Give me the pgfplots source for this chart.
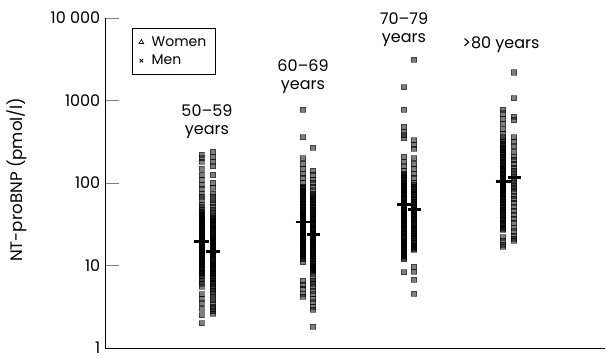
\documentclass[border=0pt]{standalone}
\usepackage{pgfplots}
\pgfplotsset{compat=1.18}
\usepackage{fontspec}
\setmainfont{Poppins}
\begin{document}
\begin{tikzpicture}[x=1pt,y=1pt]
\begin{axis}[
  at={(0,0)}, anchor=south west,
  scale only axis, width=375pt, height=247.5pt,
  axis x line*=bottom, axis y line*=left,
  xmin=0, xmax=10, xtick=\empty,
  ymode=log, ymin=1, ymax=10000,
  ytick={1,10,100,1000,10000},
  yticklabels={1,10,100,1000,10 000},
  yminorticks=false,
  tick align=inside, major tick length=10.5pt,
  /pgf/number format/assume math mode=true,
  tick label style={font=\fontsize{12}{14}\selectfont},
  ylabel={NT-proBNP (pmol/l)},
  every axis y label/.style={at={(axis description cs:-0.176,0.51)}, rotate=90, anchor=center, font=\fontsize{12.5}{14}\selectfont},
  axis line style={black, line width=0.6pt},
  legend style={at={(axis description cs:0.054,0.97)}, anchor=north west, font=\fontsize{10.5}{12}\selectfont, draw=black, line width=0.6pt, row sep=1pt, column sep=4pt, inner xsep=5pt, inner ysep=4pt},
  legend cell align=left,
  pts/.style={only marks, mark=square*, mark size=1.9pt, mark options={draw=none, fill=black, opacity=0.5}, forget plot},
  med/.style={black, line width=2.2pt, forget plot},
  clip=false,
]
\addlegendimage{only marks, mark=triangle, mark size=2pt, mark options={black, line width=0.5pt}}
\addlegendentry{Women\hspace{6pt}}
\addlegendimage{only marks, mark=x, mark size=1.8pt, mark options={black, line width=0.6pt}}
\addlegendentry{Men}

% 50-59 women
\addplot[pts] table[x expr=1.93, y=v, row sep=\\] {v\\220\\200\\180\\150\\125\\110\\95\\85\\75\\68\\62\\55\\52\\48\\45\\42\\40\\38\\36\\34\\32\\30\\29\\28\\27\\26\\25\\24\\23\\22\\21\\20\\19.5\\19\\18\\17.5\\17\\16\\15.5\\15\\14\\13.5\\13\\12\\11.5\\11\\10.5\\10\\9.5\\9\\8.5\\8\\7.5\\7\\6.5\\6\\5.5\\4.5\\4\\3.5\\3\\2.5\\2\\};
\addplot[pts] table[x expr=1.93, y=v, row sep=\\] {v\\44\\41\\39\\37\\35\\33\\31\\29.5\\28.5\\27.5\\26.5\\25.5\\24.5\\23.5\\22.5\\21.5\\20.5\\18.5\\16.5\\14.5\\12.5\\11.2\\10.2\\9.2\\8.2\\};
% 50-59 men
\addplot[pts] table[x expr=2.16, y=v, row sep=\\] {v\\240\\210\\180\\160\\125\\100\\88\\75\\68\\62\\57\\52\\48\\44\\40\\37\\34\\31\\29\\27\\25\\23\\21\\20\\19\\18\\17\\16\\15\\14\\13.5\\13\\12\\11\\10.5\\10\\9.5\\9\\8.5\\8\\7.5\\7\\6.5\\6\\5.5\\5\\4.6\\4.2\\3.8\\3.5\\3.2\\3\\2.8\\2.6\\};
\addplot[pts] table[x expr=2.16, y=v, row sep=\\] {v\\38\\35\\32\\30\\28\\26\\24\\22\\20.5\\19.5\\18.5\\17.5\\16.5\\15.5\\14.5\\12.5\\11.5\\10.2\\9.2\\8.2\\7.2\\6.2\\5.2\\};
% 60-69 women
\addplot[pts] table[x expr=3.96, y=v, row sep=\\] {v\\770\\360\\200\\170\\150\\130\\115\\100\\90\\85\\80\\75\\70\\65\\60\\56\\52\\48\\45\\42\\40\\38\\36\\34\\32\\30\\28\\27\\26\\25\\24\\23\\22\\21\\20\\19\\18\\17\\16\\15\\14\\13\\12\\11\\6.5\\5.8\\5.2\\4.6\\4.2\\};
\addplot[pts] table[x expr=3.96, y=v, row sep=\\] {v\\87\\78\\72\\67\\62\\58\\54\\50\\46\\43\\41\\39\\37\\35\\33\\31\\29\\27.5\\26.5\\25.5\\24.5\\23.5\\22.5\\21.5\\20.5\\19.5\\18.5\\17.5\\16.5\\15.5\\14.5\\13.5\\12.5\\};
% 60-69 men
\addplot[pts] table[x expr=4.16, y=v, row sep=\\] {v\\270\\140\\125\\110\\100\\90\\82\\75\\70\\65\\60\\55\\50\\46\\42\\39\\36\\33\\31\\29\\27\\25\\24\\23\\22\\21\\20\\19\\18\\17\\16\\15\\14\\13\\12\\11\\10\\9.5\\9\\8.5\\8\\7\\6.5\\6\\5.5\\5\\4.5\\4\\3.6\\3.2\\2.9\\1.8\\};
\addplot[pts] table[x expr=4.16, y=v, row sep=\\] {v\\68\\62\\57\\52\\48\\44\\40\\37\\34\\32\\30\\28\\26\\24.5\\23.5\\22.5\\21.5\\20.5\\19.5\\18.5\\17.5\\16.5\\15.5\\14.5\\13.5\\12.5\\11.5\\10.5\\9.7\\9.2\\8.7\\};
% 70-79 women
\addplot[pts] table[x expr=5.98, y=v, row sep=\\] {v\\1450\\770\\480\\420\\380\\350\\210\\180\\160\\140\\130\\120\\110\\100\\95\\90\\85\\80\\75\\70\\65\\60\\56\\52\\48\\45\\42\\40\\38\\36\\34\\32\\30\\28\\26\\24\\22\\20\\19\\18\\17\\16\\15\\14\\13\\12\\8.3\\};
\addplot[pts] table[x expr=5.98, y=v, row sep=\\] {v\\125\\115\\105\\97\\92\\87\\82\\77\\72\\67\\62\\58\\54\\50\\46\\43\\41\\39\\37\\35\\33\\31\\29\\27\\25\\23\\21\\19.5\\18.5\\17.5\\16.5\\15.5\\14.5\\13.5\\12.5\\};
% 70-79 men
\addplot[pts] table[x expr=6.18, y=v, row sep=\\] {v\\3100\\330\\290\\260\\200\\170\\150\\130\\115\\100\\90\\82\\75\\68\\62\\57\\52\\48\\45\\42\\39\\36\\33\\30\\28\\26\\24\\22\\20\\18\\17\\16\\15.5\\9.6\\8.5\\6.8\\4.6\\};
\addplot[pts] table[x expr=6.18, y=v, row sep=\\] {v\\95\\86\\78\\72\\65\\60\\55\\50\\46\\43\\40\\37\\34\\31\\29\\27\\25\\23\\21\\19\\17.5\\16.5\\};
% >80 women
\addplot[pts] table[x expr=7.96, y=v, row sep=\\] {v\\780\\700\\600\\520\\450\\400\\360\\330\\300\\270\\250\\230\\210\\190\\175\\160\\150\\140\\130\\120\\112\\105\\100\\95\\90\\85\\80\\75\\70\\65\\60\\55\\50\\46\\42\\38\\35\\32\\29\\27\\22\\20\\18\\17\\};
\addplot[pts] table[x expr=7.96, y=v, row sep=\\] {v\\315\\285\\260\\240\\220\\200\\182\\168\\155\\145\\135\\125\\116\\108\\102\\97\\92\\87\\82\\77\\72\\67\\62\\57\\52\\48\\44\\40\\36\\33\\30\\28\\};
% >80 men
\addplot[pts] table[x expr=8.18, y=v, row sep=\\] {v\\2200\\1070\\640\\580\\360\\320\\280\\240\\210\\190\\170\\155\\140\\130\\120\\110\\100\\92\\85\\78\\70\\64\\58\\52\\46\\41\\37\\33\\29\\26\\23\\21\\20\\};

% medians
\addplot[med] coordinates {(1.78,19.3) (2.08,19.3)};
\addplot[med] coordinates {(2.03,14.6) (2.30,14.6)};
\addplot[med] coordinates {(3.81,33.7) (4.11,33.7)};
\addplot[med] coordinates {(4.03,24) (4.30,24)};
\addplot[med] coordinates {(5.83,55.6) (6.13,55.6)};
\addplot[med] coordinates {(6.05,48) (6.32,48)};
\addplot[med] coordinates {(7.81,105) (8.11,105)};
\addplot[med] coordinates {(8.05,118) (8.32,118)};

\node[align=center, font=\fontsize{12}{13.5}\selectfont] at (axis cs:2.04,560) {50–59\\years};
\node[align=center, font=\fontsize{12}{13.5}\selectfont] at (axis cs:3.96,1930) {60–69\\years};
\node[align=center, font=\fontsize{12}{13.5}\selectfont] at (axis cs:5.98,7180) {70–79\\years};
\node[font=\fontsize{12}{13.5}\selectfont] at (axis cs:7.92,4700) {>80 years};
\end{axis}
\path[use as bounding box] (-78.75pt,-0.75pt) rectangle (376.5pt,261pt);
\end{tikzpicture}
\end{document}
